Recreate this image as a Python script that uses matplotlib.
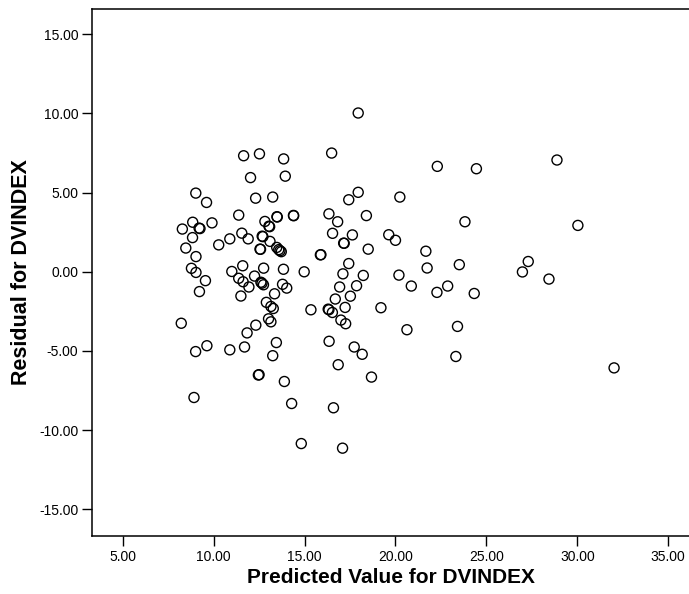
import matplotlib
matplotlib.use("Agg")
import matplotlib.pyplot as plt

# valores (predicho, residuo)
predicted = [
    17.95, 11.65, 12.52, 13.85, 16.49, 12.03, 13.94, 9.02, 9.61, 12.31,
    13.25, 17.95, 17.43, 22.30, 24.45, 28.88, 20.24, 11.38, 13.48, 13.50,
    14.39, 14.40, 16.34, 16.82, 18.40, 23.82, 30.03, 8.85, 8.28, 9.20,
    9.25, 9.91, 8.84, 8.47, 9.03, 10.28, 10.89, 11.55, 11.90, 12.82,
    13.04, 13.08, 12.67, 12.71, 13.10, 12.55, 12.58, 13.47, 13.58, 13.65,
    13.72, 15.87, 15.90, 16.54, 17.15, 17.18, 17.63, 18.50, 19.63, 20.00,
    21.67, 21.74, 23.51, 27.30, 26.98, 28.44, 20.19, 20.87, 22.28, 22.87,
    24.33, 8.78, 9.03, 9.55, 9.22, 11.00, 11.60, 11.38, 11.62, 11.94,
    12.25, 12.60, 12.66, 12.74, 12.75, 13.84, 14.98, 13.79, 14.02, 11.50,
    13.35, 12.90, 13.15, 13.28, 15.35, 16.30, 16.34, 16.53, 16.69, 17.11,
    17.43, 16.93, 17.86, 17.52, 17.23, 18.23, 19.20, 17.00, 17.26, 8.22,
    12.32, 11.84, 13.02, 13.15, 13.45, 13.25, 9.01, 9.63, 10.89, 11.70,
    16.35, 17.73, 18.17, 16.85, 18.68, 12.46, 12.50, 13.89, 8.92, 14.29,
    16.59, 14.82, 17.09, 20.63, 23.41, 23.32, 32.02,
]
residual = [
    10.03, 7.33, 7.45, 7.13, 7.50, 5.95, 6.04, 4.97, 4.38, 4.65,
    4.72, 5.02, 4.55, 6.66, 6.51, 7.06, 4.72, 3.58, 3.48, 3.46,
    3.56, 3.54, 3.66, 3.16, 3.55, 3.16, 2.93, 3.13, 2.70, 2.76,
    2.73, 3.09, 2.16, 1.50, 0.96, 1.70, 2.08, 2.44, 2.08, 3.18,
    2.88, 2.85, 2.25, 2.22, 1.92, 1.43, 1.42, 1.54, 1.40, 1.33,
    1.27, 1.07, 1.08, 2.43, 1.81, 1.80, 2.33, 1.43, 2.34, 1.99,
    1.30, 0.24, 0.45, 0.65, -0.01, -0.46, -0.21, -0.90, -1.30, -0.90,
    -1.37, 0.22, -0.04, -0.56, -1.25, 0.02, 0.38, -0.41, -0.63, -0.96,
    -0.27, -0.66, -0.72, -0.82, 0.23, 0.16, 0.00, -0.79, -1.03, -1.53,
    -1.39, -1.93, -2.19, -2.32, -2.40, -2.36, -2.40, -2.57, -1.72, -0.13,
    0.52, -0.96, -0.88, -1.54, -2.25, -0.23, -2.27, -3.05, -3.28, -3.25,
    -3.37, -3.86, -2.97, -3.16, -4.47, -5.30, -5.04, -4.67, -4.93, -4.75,
    -4.39, -4.75, -5.21, -5.87, -6.65, -6.52, -6.50, -6.93, -7.94, -8.32,
    -8.59, -10.85, -11.14, -3.66, -3.45, -5.35, -6.07,
]
x_ticks = [5, 10, 15, 20, 25, 30, 35]
y_ticks = [-15, -10, -5, 0, 5, 10, 15]

plt.rcParams['font.family'] = ['Liberation Sans', 'DejaVu Sans']

fig = plt.figure(figsize=(6.89, 5.94), dpi=100)
ax = fig.add_axes([0.134, 0.0976, 0.866, 0.8878])

ax.scatter(predicted, residual, s=52, facecolors='none', edgecolors='black',
           linewidths=1.0, zorder=3)

ax.set_xlim(3.33, 36.14)
ax.set_ylim(-16.69, 16.62)
ax.set_xticks(x_ticks)
ax.set_yticks(y_ticks)
ax.set_xticklabels([f"{v:.2f}" for v in x_ticks])
ax.set_yticklabels([f"{v:.2f}" for v in y_ticks])
ax.tick_params(direction='out', length=7, width=1, labelsize=10, pad=3)

for side in ['left', 'bottom', 'top']:
    ax.spines[side].set_linewidth(1.1)
ax.spines['right'].set_visible(False)

ax.set_xlabel("Predicted Value for DVINDEX", fontsize=15, fontweight='bold', labelpad=3)
ax.set_ylabel("Residual for DVINDEX", fontsize=15.5, fontweight='bold', labelpad=5)

fig.savefig("out.png", dpi=100)
